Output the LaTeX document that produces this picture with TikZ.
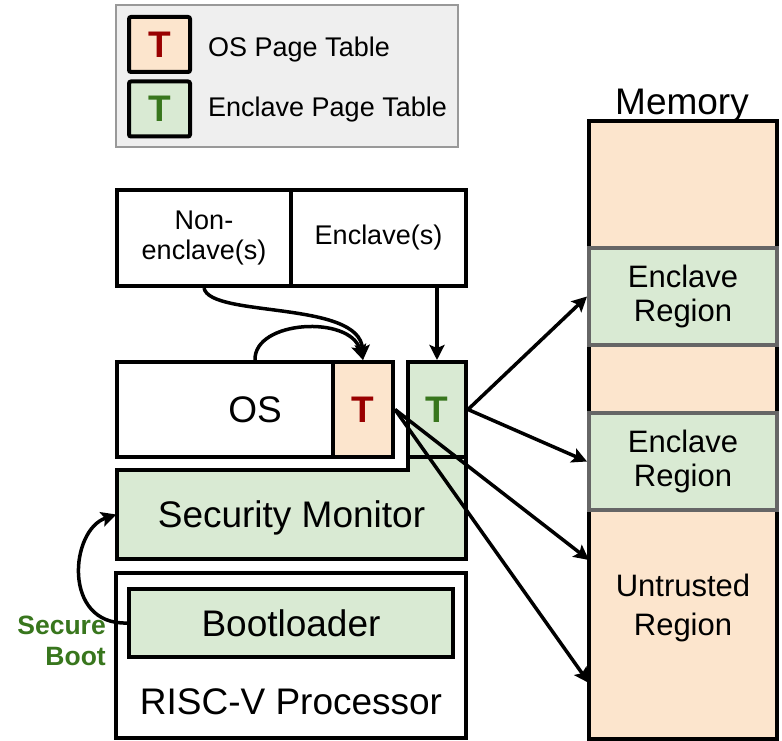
\documentclass[tikz,border=0pt]{standalone}
\usepackage{fontspec}
\setmainfont{Liberation Sans}
\usepackage{xcolor}
\usetikzlibrary{arrows.meta,positioning,calc}
\definecolor{peach}{HTML}{FCE5CD}
\definecolor{mint}{HTML}{D9EAD3}
\definecolor{darkred}{HTML}{990000}
\definecolor{leafgreen}{HTML}{38761D}
\definecolor{legendgray}{HTML}{EFEFEF}
\definecolor{framegray}{HTML}{999999}
\definecolor{regiongray}{HTML}{666666}

\begin{document}
\begin{tikzpicture}[x=1pt, y=-1pt,
    box/.style={rectangle, draw=black, line width=4pt, inner sep=0pt, align=center},
    ptab/.style={box, font=\fontsize{37}{40}\selectfont\bfseries},
    region/.style={rectangle, draw=regiongray, line width=4pt, fill=mint, inner sep=0pt, align=center, minimum width=188pt, minimum height=97pt, font=\fontsize{31}{34}\selectfont},
    big/.style={font=\fontsize{37}{40}\selectfont},
    small/.style={font=\fontsize{27}{30}\selectfont},
    arrow/.style={->, line width=3.5pt, >={Stealth[length=15pt,width=15pt,inset=3pt]}}
]
    \useasboundingbox (0,0) rectangle (782,741);

    % Legend
    \node[rectangle, draw=framegray, line width=2pt, fill=legendgray, minimum width=342pt, minimum height=142pt] (legend) at (287,76) {};
    \node[ptab, fill=peach, text=darkred, minimum width=61pt, minimum height=55pt, rounded corners=2pt] (keyos) at (159.5,44.5) {T};
    \node[ptab, fill=mint, text=leafgreen, minimum width=61pt, minimum height=55pt, rounded corners=2pt] (keyen) at (159.5,109) {T};
    \node[anchor=base west, inner sep=0pt, font=\fontsize{27}{30}\selectfont] (keyostxt) at (208,57) {OS Page Table};
    \node[anchor=base west, inner sep=0pt, font=\fontsize{27}{30}\selectfont] (keyentxt) at (208,117) {Enclave Page Table};

    % Software
    \node[box, small, minimum width=174pt, minimum height=96pt] (nonencl) at (204,238) {Non-\\enclave(s)};
    \node[box, small, minimum width=175pt, minimum height=96pt] (encl) at (378.5,238) {Enclave(s)};

    % OS and page tables
    \node[box, big, minimum width=276pt, minimum height=95pt] (os) at (255,409.5) {OS};
    \node[ptab, fill=peach, text=darkred, minimum width=60pt, minimum height=95pt] (ost) at (363,409.5) {T};
    \draw[line width=4pt, fill=mint] (117,470) -| (408,457) -| (466,559) -- (117,559) -- cycle;
    \node[ptab, fill=mint, text=leafgreen, minimum width=58pt, minimum height=95pt] (ent) at (437,409.5) {T};
    \node[big, inner sep=0pt, text depth=0pt, minimum width=350pt, minimum height=89pt] (sm) at (291.5,514.5) {Security Monitor};

    % Hardware
    \node[box, minimum width=350pt, minimum height=165pt] (cpu) at (291,655.5) {};
    \node[box, big, fill=mint, minimum width=324pt, minimum height=68pt] (boot) at (291,623) {Bootloader};
    \node[big] (cpulbl) at (291,702) {RISC-V Processor};
    \node[anchor=east, align=right, inner sep=0pt, text=leafgreen, font=\fontsize{26.5}{31}\selectfont\bfseries] (secboot) at (106,641) {Secure\\Boot};

    % Memory
    \node[box, fill=peach, minimum width=188pt, minimum height=618pt] (mem) at (683,430) {};
    \node[big, anchor=base] (memlbl) at (682,115) {Memory};
    \node[region] (encr1) at (683,296.5) {Enclave\\Region};
    \node[region] (encr2) at (683,461.5) {Enclave\\Region};
    \node[align=center, font=\fontsize{31}{39}\selectfont] (untr) at (683,608) {Untrusted\\Region};
    \coordinate (u1) at (589,560);
    \coordinate (u2) at (589,683);

    % Connectors
    \draw[arrow] (nonencl.south) .. controls (210,318) and (360,300) .. (ost.north);
    \draw[arrow] (os.north) .. controls (254,320) and (350,315) .. (ost.north);
    \draw[arrow] (ent.north |- encl.south) -- (ent.north);
    \draw[arrow] (ent.east) -- (encr1.west);
    \draw[arrow] (ent.east) -- (encr2.west);
    \draw[arrow] (ost.east) -- (u1);
    \draw[arrow] (ost.east) -- (u2);
    \draw[arrow] (boot.west) .. controls (62,625) and (70,530) .. (sm.west);
\end{tikzpicture}
\end{document}
